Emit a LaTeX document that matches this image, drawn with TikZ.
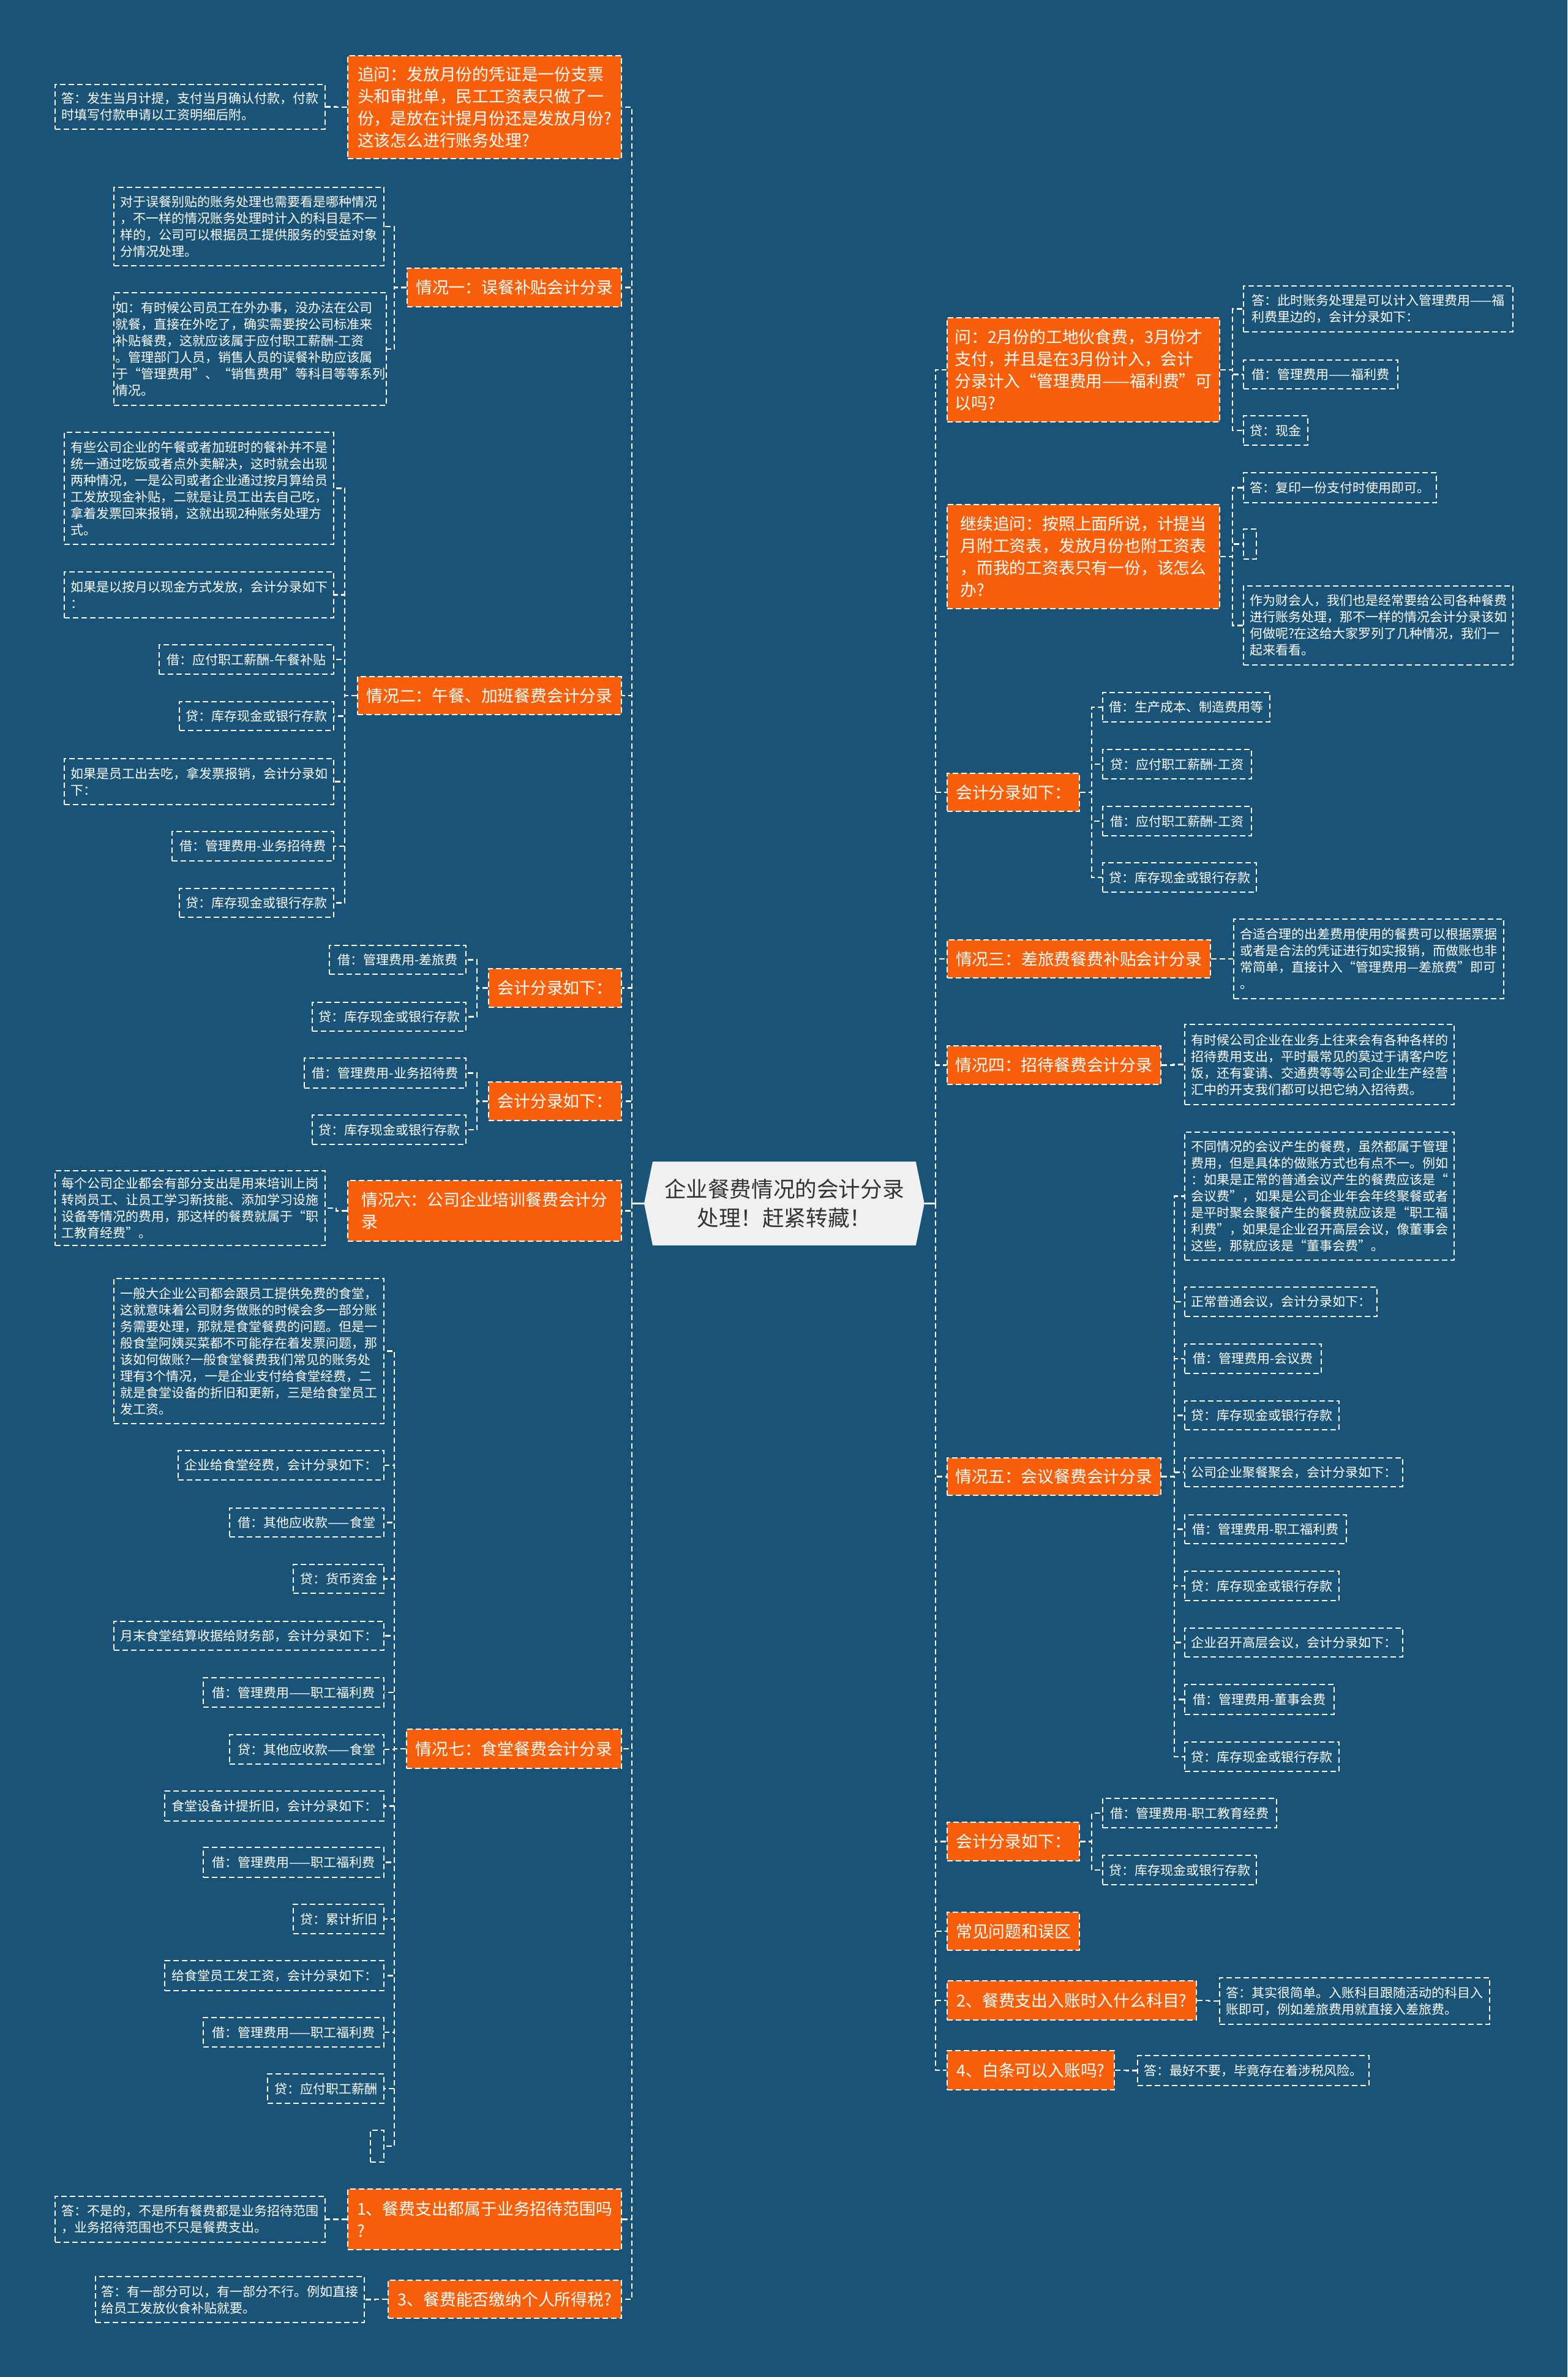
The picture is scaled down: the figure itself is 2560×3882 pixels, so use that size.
\documentclass[tikz,border=0pt]{standalone}
\usepackage{fontspec}
\setmainfont{Noto Sans CJK SC}
\pgfdeclarelayer{background}
\pgfsetlayers{background,main}
\definecolor{bgblue}{RGB}{25,84,120}
\definecolor{orng}{RGB}{249,95,11}
\definecolor{rootfill}{RGB}{240,240,240}
\definecolor{roottext}{RGB}{51,51,51}
\tikzset{
  bx/.style n args={4}{anchor=north west, at={(#1,#2)}, minimum width={(#3-#1)*0.5pt}, minimum height={(#4-#2)*0.5pt}},
  leaf/.style={draw=white, line width=1pt, dash pattern=on 4.5pt off 2.5pt, text=white, align=left, inner sep=1pt, font=\fontsize{10.5pt}{13.5pt}\selectfont},
  topic/.style={leaf, fill=orng, font=\fontsize{13.4pt}{18pt}\selectfont},
  conn/.style={draw=white, line width=1.2pt, dash pattern=on 4.5pt off 2.5pt},
}
\begin{document}
\begin{tikzpicture}[x=0.5pt, y=-0.5pt]
\useasboundingbox (0,0) rectangle (2560,3882);

% root
\node[bx={1052}{1897}{1509}{2033}, align=center, text=roottext, inner sep=0pt, font=\fontsize{17.8pt}{23.5pt}\selectfont] (root) {企业餐费情况的会计分录\\处理！赶紧转藏！};

% ---------- LEFT ----------
\node[topic, bx={567}{90}{1014}{258}] (L1) {追问：发放月份的凭证是一份支票\\头和审批单，民工工资表只做了一\\份，是放在计提月份还是发放月份?\\这该怎么进行账务处理?};
\node[leaf, bx={89}{137}{530}{210}] (L1a) {答：发生当月计提，支付当月确认付款，付款\\时填写付款申请以工资明细后附。};

\node[topic, bx={664}{437}{1014}{500}] (L2) {情况一：误餐补贴会计分录};
\node[leaf, bx={185}{305}{626}{433}] (L2a) {对于误餐别贴的账务处理也需要看是哪种情况\\，不一样的情况账务处理时计入的科目是不一\\样的，公司可以根据员工提供服务的受益对象\\分情况处理。};
\node[leaf, bx={185}{477}{626}{661}] (L2b) {如：有时候公司员工在外办事，没办法在公司\\就餐，直接在外吃了，确实需要按公司标准来\\补贴餐费，这就应该属于应付职工薪酬-工资\\。管理部门人员，销售人员的误餐补助应该属\\于“管理费用”、“销售费用”等科目等等系列\\情况。};

\node[topic, bx={583}{1104}{1014}{1166}] (L3) {情况二：午餐、加班餐费会计分录};
\node[leaf, bx={104}{705}{544}{888}] (L3a) {有些公司企业的午餐或者加班时的餐补并不是\\统一通过吃饭或者点外卖解决，这时就会出现\\两种情况，一是公司或者企业通过按月算给员\\工发放现金补贴，二就是让员工出去自己吃，\\拿着发票回来报销，这就出现2种账务处理方\\式。};
\node[leaf, bx={104}{933}{544}{1008}] (L3b) {如果是以按月以现金方式发放，会计分录如下\\：};
\node[leaf, bx={259}{1052}{544}{1100}] (L3c) {借：应付职工薪酬-午餐补贴};
\node[leaf, bx={292}{1145}{544}{1192}] (L3d) {贷：库存现金或银行存款};
\node[leaf, bx={104}{1238}{544}{1313}] (L3e) {如果是员工出去吃，拿发票报销，会计分录如\\下：};
\node[leaf, bx={280}{1357}{544}{1405}] (L3f) {借：管理费用-业务招待费};
\node[leaf, bx={292}{1450}{544}{1497}] (L3g) {贷：库存现金或银行存款};

\node[topic, bx={797}{1581}{1014}{1644}] (L4) {会计分录如下：};
\node[leaf, bx={537}{1543}{760}{1590}] (L4a) {借：管理费用-差旅费};
\node[leaf, bx={509}{1636}{760}{1683}] (L4b) {贷：库存现金或银行存款};

\node[topic, bx={797}{1766}{1014}{1829}] (L5) {会计分录如下：};
\node[leaf, bx={496}{1727}{760}{1776}] (L5a) {借：管理费用-业务招待费};
\node[leaf, bx={509}{1820}{760}{1868}] (L5b) {贷：库存现金或银行存款};

\node[topic, bx={567}{1927}{1014}{2026}] (L6) {情况六：公司企业培训餐费会计分\\录};
\node[leaf, bx={89}{1911}{530}{2033}] (L6a) {每个公司企业都会有部分支出是用来培训上岗\\转岗员工、让员工学习新技能、添加学习设施\\设备等情况的费用，那这样的餐费就属于“职\\工教育经费”。};

\node[topic, bx={663}{2823}{1014}{2887}] (L7) {情况七：食堂餐费会计分录};
\node[leaf, bx={185}{2087}{626}{2324}] (L7a) {一般大企业公司都会跟员工提供免费的食堂，\\这就意味着公司财务做账的时候会多一部分账\\务需要处理，那就是食堂餐费的问题。但是一\\般食堂阿姨买菜都不可能存在着发票问题，那\\该如何做账?一般食堂餐费我们常见的账务处\\理有3个情况，一是企业支付给食堂经费，二\\就是食堂设备的折旧和更新，三是给食堂员工\\发工资。};
\node[leaf, bx={290}{2368}{626}{2416}] (L7b) {企业给食堂经费，会计分录如下：};
\node[leaf, bx={374}{2462}{626}{2509}] (L7c) {借：其他应收款——食堂};
\node[leaf, bx={478}{2554}{626}{2601}] (L7d) {贷：货币资金};
\node[leaf, bx={185}{2647}{626}{2694}] (L7e) {月末食堂结算收据给财务部，会计分录如下：};
\node[leaf, bx={331}{2739}{626}{2787}] (L7f) {借：管理费用——职工福利费};
\node[leaf, bx={374}{2832}{626}{2880}] (L7g) {贷：其他应收款——食堂};
\node[leaf, bx={268}{2924}{626}{2973}] (L7h) {食堂设备计提折旧，会计分录如下：};
\node[leaf, bx={331}{3016}{626}{3065}] (L7i) {借：管理费用——职工福利费};
\node[leaf, bx={478}{3109}{626}{3157}] (L7j) {贷：累计折旧};
\node[leaf, bx={268}{3201}{626}{3250}] (L7k) {给食堂员工发工资，会计分录如下：};
\node[leaf, bx={331}{3294}{626}{3342}] (L7l) {借：管理费用——职工福利费};
\node[leaf, bx={436}{3386}{626}{3434}] (L7m) {贷：应付职工薪酬};
\node[leaf, bx={604}{3478}{626}{3530}] (L7n) {};

\node[topic, bx={567}{3574}{1014}{3673}] (L8) {1、餐费支出都属于业务招待范围吗\\?};
\node[leaf, bx={89}{3586}{530}{3661}] (L8a) {答：不是的，不是所有餐费都是业务招待范围\\，业务招待范围也不只是餐费支出。};

\node[topic, bx={633}{3723}{1014}{3785}] (L9) {3、餐费能否缴纳个人所得税?};
\node[leaf, bx={155}{3717}{594}{3792}] (L9a) {答：有一部分可以，有一部分不行。例如直接\\给员工发放伙食补贴就要。};

% ---------- RIGHT ----------
\node[topic, bx={1546}{518}{1991}{688}] (R1) {问：2月份的工地伙食费，3月份才\\支付，并且是在3月份计入，会计\\分录计入“管理费用——福利费”可\\以吗?};
\node[leaf, bx={2030}{466}{2470}{541}] (R1a) {答：此时账务处理是可以计入管理费用——福\\利费里边的，会计分录如下：};
\node[leaf, bx={2030}{587}{2282}{634}] (R1b) {借：管理费用——福利费};
\node[leaf, bx={2030}{678}{2135}{726}] (R1c) {贷：现金};

\node[topic, bx={1546}{823}{1991}{993}] (R2) {继续追问：按照上面所说，计提当\\月附工资表，发放月份也附工资表\\，而我的工资表只有一份，该怎么\\办?};
\node[leaf, bx={2030}{771}{2345}{820}] (R2a) {答：复印一份支付时使用即可。};
\node[leaf, bx={2030}{863}{2051}{912}] (R2b) {};
\node[leaf, bx={2030}{956}{2470}{1085}] (R2c) {作为财会人，我们也是经常要给公司各种餐费\\进行账务处理，那不一样的情况会计分录该如\\何做呢?在这给大家罗列了几种情况，我们一\\起来看看。};

\node[topic, bx={1546}{1262}{1762}{1324}] (R3) {会计分录如下：};
\node[leaf, bx={1800}{1130}{2073}{1178}] (R3a) {借：生产成本、制造费用等};
\node[leaf, bx={1800}{1223}{2043}{1271}] (R3b) {贷：应付职工薪酬-工资};
\node[leaf, bx={1800}{1316}{2043}{1364}] (R3c) {借：应付职工薪酬-工资};
\node[leaf, bx={1800}{1408}{2051}{1456}] (R3d) {贷：库存现金或银行存款};

\node[topic, bx={1546}{1534}{1976}{1596}] (R4) {情况三：差旅费餐费补贴会计分录};
\node[leaf, bx={2014}{1500}{2455}{1630}] (R4a) {合适合理的出差费用使用的餐费可以根据票据\\或者是合法的凭证进行如实报销，而做账也非\\常简单，直接计入“管理费用—差旅费”即可\\。};

\node[topic, bx={1546}{1707}{1895}{1770}] (R5) {情况四：招待餐费会计分录};
\node[leaf, bx={1934}{1672}{2374}{1803}] (R5a) {有时候公司企业在业务上往来会有各种各样的\\招待费用支出，平时最常见的莫过于请客户吃\\饭，还有宴请、交通费等等公司企业生产经营\\汇中的开支我们都可以把它纳入招待费。};

\node[topic, bx={1546}{2380}{1895}{2441}] (R6) {情况五：会议餐费会计分录};
\node[leaf, bx={1934}{1848}{2374}{2057}] (R6a) {不同情况的会议产生的餐费，虽然都属于管理\\费用，但是具体的做账方式也有点不一。例如\\：如果是正常的普通会议产生的餐费应该是“\\会议费”，如果是公司企业年会年终聚餐或者\\是平时聚会聚餐产生的餐费就应该是“职工福\\利费”，如果是企业召开高层会议，像董事会\\这些，那就应该是“董事会费”。};
\node[leaf, bx={1934}{2101}{2248}{2149}] (R6b) {正常普通会议，会计分录如下：};
\node[leaf, bx={1934}{2194}{2157}{2242}] (R6c) {借：管理费用-会议费};
\node[leaf, bx={1934}{2287}{2186}{2334}] (R6d) {贷：库存现金或银行存款};
\node[leaf, bx={1934}{2380}{2290}{2427}] (R6e) {公司企业聚餐聚会，会计分录如下：};
\node[leaf, bx={1934}{2473}{2198}{2520}] (R6f) {借：管理费用-职工福利费};
\node[leaf, bx={1934}{2565}{2186}{2613}] (R6g) {贷：库存现金或银行存款};
\node[leaf, bx={1934}{2658}{2290}{2705}] (R6h) {企业召开高层会议，会计分录如下：};
\node[leaf, bx={1934}{2750}{2178}{2799}] (R6i) {借：管理费用-董事会费};
\node[leaf, bx={1934}{2844}{2186}{2892}] (R6j) {贷：库存现金或银行存款};

\node[topic, bx={1546}{2975}{1762}{3038}] (R7) {会计分录如下：};
\node[leaf, bx={1800}{2936}{2084}{2984}] (R7a) {借：管理费用-职工教育经费};
\node[leaf, bx={1800}{3029}{2051}{3077}] (R7b) {贷：库存现金或银行存款};

\node[topic, bx={1546}{3122}{1762}{3184}] (R8) {常见问题和误区};

\node[topic, bx={1546}{3234}{1953}{3298}] (R9) {2、餐费支出入账时入什么科目?};
\node[leaf, bx={1991}{3229}{2432}{3305}] (R9a) {答：其实很简单。入账科目跟随活动的科目入\\账即可，例如差旅费用就直接入差旅费。};

\node[topic, bx={1546}{3348}{1819}{3412}] (R10) {4、白条可以入账吗?};
\node[leaf, bx={1857}{3356}{2235}{3405}] (R10a) {答：最好不要，毕竟存在着涉税风险。};

% ---------- CONNECTORS ----------
\coordinate (LS) at ([xshift=-10pt]root.west);
\coordinate (RS) at ([xshift=9pt]root.east);
\draw[white, line width=1.2pt] (root.west) -- (LS);
\draw[white, line width=1.2pt] (root.east) -- (RS);
\foreach \c in {L1,L2,L3,L4,L5,L6,L7,L8,L9} \draw[conn] (LS) |- (\c.east);
\foreach \c in {R1,R2,R3,R4,R5,R6,R7,R8,R9,R10} \draw[conn] (RS) |- (\c.west);

\draw[conn] (L1.west) -- ++(-9pt,0) |- (L1a.east);
\foreach \c in {L2a,L2b} \draw[conn] (L2.west) -- ++(-10pt,0) |- (\c.east);
\foreach \c in {L3a,L3b,L3c,L3d,L3e,L3f,L3g} \draw[conn] (L3.west) -- ++(-10pt,0) |- (\c.east);
\foreach \c in {L4a,L4b} \draw[conn] (L4.west) -- ++(-9pt,0) |- (\c.east);
\foreach \c in {L5a,L5b} \draw[conn] (L5.west) -- ++(-9pt,0) |- (\c.east);
\draw[conn] (L6.west) -- ++(-9pt,0) |- (L6a.east);
\foreach \c in {L7a,L7b,L7c,L7d,L7e,L7f,L7g,L7h,L7i,L7j,L7k,L7l,L7m,L7n} \draw[conn] (L7.west) -- ++(-9.5pt,0) |- (\c.east);
\draw[conn] (L8.west) -- ++(-9pt,0) |- (L8a.east);
\draw[conn] (L9.west) -- ++(-10pt,0) |- (L9a.east);

\foreach \c in {R1a,R1b,R1c} \draw[conn] (R1.east) -- ++(10pt,0) |- (\c.west);
\foreach \c in {R2a,R2b,R2c} \draw[conn] (R2.east) -- ++(10pt,0) |- (\c.west);
\foreach \c in {R3a,R3b,R3c,R3d} \draw[conn] (R3.east) -- ++(9.5pt,0) |- (\c.west);
\draw[conn] (R4.east) -- ++(9.5pt,0) |- (R4a.west);
\draw[conn] (R5.east) -- ++(9.75pt,0) |- (R5a.west);
\foreach \c in {R6a,R6b,R6c,R6d,R6e,R6f,R6g,R6h,R6i,R6j} \draw[conn] (R6.east) -- ++(10.5pt,0) |- (\c.west);
\foreach \c in {R7a,R7b} \draw[conn] (R7.east) -- ++(9.5pt,0) |- (\c.west);
\draw[conn] (R9.east) -- ++(9.5pt,0) |- (R9a.west);
\draw[conn] (R10.east) -- ++(9.5pt,0) |- (R10a.west);

% ---------- BACKGROUND ----------
\begin{pgfonlayer}{background}
\fill[bgblue] (0,0) rectangle (2560,3882);
\fill[rootfill] (root.west) -- ([xshift=7pt]root.north west) -- ([xshift=-7pt]root.north east) -- (root.east) -- ([xshift=-7pt]root.south east) -- ([xshift=7pt]root.south west) -- cycle;
\end{pgfonlayer}
\end{tikzpicture}
\end{document}
